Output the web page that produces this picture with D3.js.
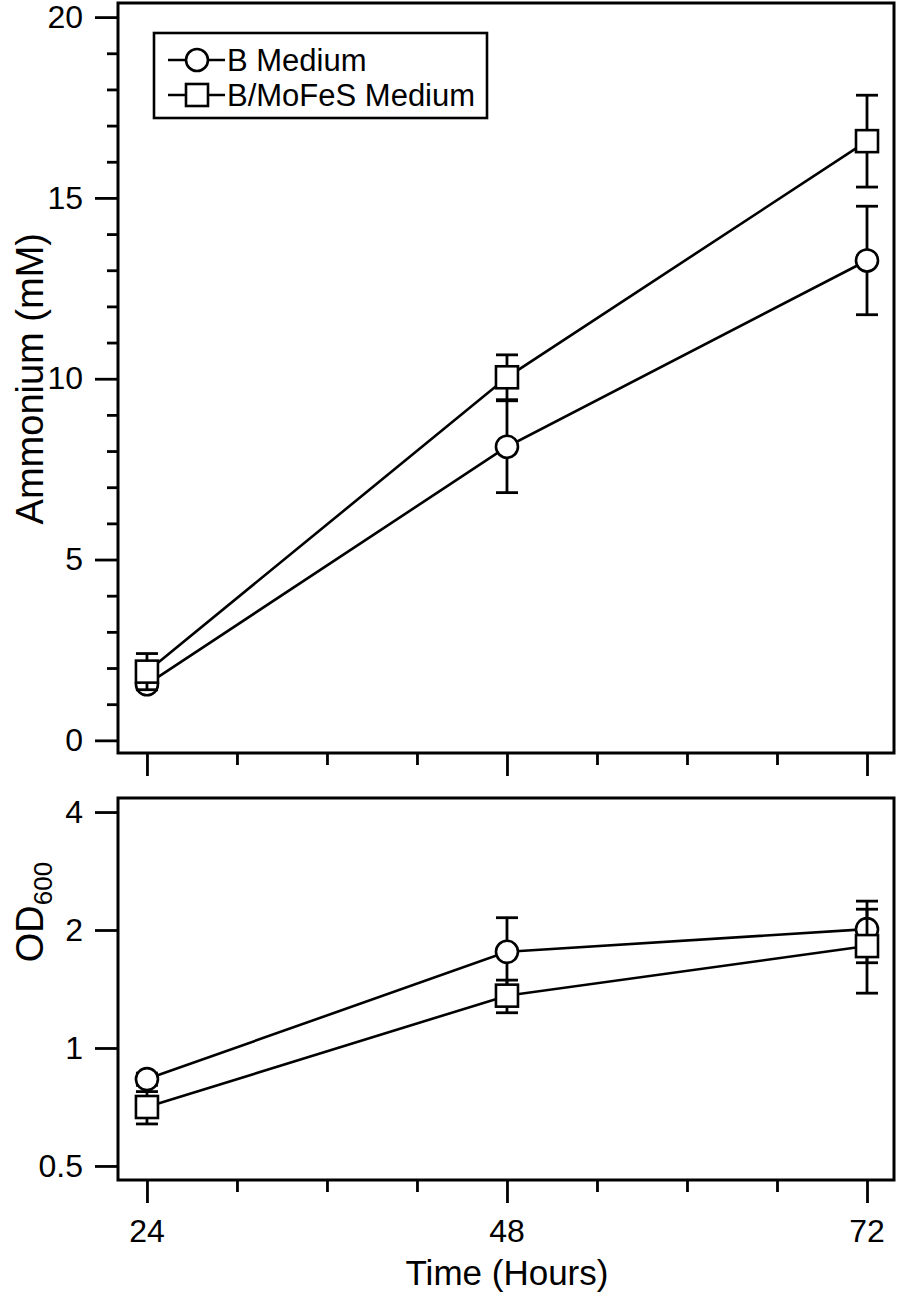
<!DOCTYPE html>
<html><head><meta charset="utf-8">
<script src="https://cdn.jsdelivr.net/npm/d3@7"></script>
<style>body{margin:0;background:#fff}svg{display:block}text{font-family:"Liberation Sans",Arial,sans-serif;fill:#000}</style>
</head><body><svg id="c" width="898" height="1299"></svg>
<script>
const hours = [24, 48, 72];
const xTickMajor = [24, 48, 72];
const xTickMinor = [30, 36, 42, 54, 60, 66];
const ammoniumB = [1.55, 8.12, 13.27];
const ammoniumBErr = [0.15, 1.27, 1.5];
const ammoniumMoFeS = [1.9, 10.04, 16.57];
const ammoniumMoFeSErr = [0.5, 0.62, 1.27];
const odB = [0.833, 1.76, 2.01];
const odBErr = [0.03, 0.39, 0.36];
const odMoFeS = [0.707, 1.36, 1.82];
const odMoFeSErr = [0.067, 0.13, 0.44];
const ammTicksMajor = [0, 5, 10, 15, 20];
const ammTicksMinor = d3.range(0, 21).filter(v => v % 5 !== 0);
const odTicks = [0.5, 1, 2, 4];
const seriesNames = ["B Medium", "B/MoFeS Medium"];

const svg = d3.select("#c");
const L = 118, R = 894;
const top1 = 3, bot1 = 753, top2 = 798, bot2 = 1180;
const x = d3.scaleLinear().domain([22.07, 73.8]).range([L, R]);
const y1 = d3.scaleLinear().domain([-0.35, 20.39]).range([bot1, top1]);
const y2 = d3.scaleLog().domain([0.4604, 4.344]).range([bot2, top2]);
const FS = 32;
const SW = 2.8;

function frame(t, b) {
  svg.append("rect").attr("x", L).attr("y", t).attr("width", R - L).attr("height", b - t)
    .attr("fill", "none").attr("stroke", "#000").attr("stroke-width", 3);
}
function xTicks(b) {
  const g = svg.append("g").attr("transform", `translate(0,${b})`);
  g.call(d3.axisBottom(x).tickValues(xTickMajor).tickSize(23).tickFormat(""));
  const g2 = svg.append("g").attr("transform", `translate(0,${b})`);
  g2.call(d3.axisBottom(x).tickValues(xTickMinor).tickSize(12).tickFormat(""));
  [g, g2].forEach(gg => { gg.select(".domain").remove(); gg.selectAll("line").attr("stroke", "#000").attr("stroke-width", SW); });
}
frame(top1, bot1);
frame(top2, bot2);
xTicks(bot1);
xTicks(bot2);

// top y axis
{
  const g = svg.append("g").attr("transform", `translate(${L},0)`);
  g.call(d3.axisLeft(y1).tickValues(ammTicksMajor).tickSize(23).tickPadding(12).tickFormat(d3.format("d")));
  const g2 = svg.append("g").attr("transform", `translate(${L},0)`);
  g2.call(d3.axisLeft(y1).tickValues(ammTicksMinor).tickSize(11).tickFormat(""));
  [g, g2].forEach(gg => { gg.select(".domain").remove(); gg.selectAll("line").attr("stroke", "#000").attr("stroke-width", SW); });
  g.selectAll("text").attr("font-size", FS).attr("font-family", "Liberation Sans, Arial, sans-serif");
}
// bottom y axis
{
  const g = svg.append("g").attr("transform", `translate(${L},0)`);
  g.call(d3.axisLeft(y2).tickValues(odTicks).tickSize(23).tickPadding(12).tickFormat(d => String(d)));
  g.select(".domain").remove();
  g.selectAll("line").attr("stroke", "#000").attr("stroke-width", SW);
  g.selectAll("text").attr("font-size", FS).attr("font-family", "Liberation Sans, Arial, sans-serif");
}
// x tick labels
svg.append("g").selectAll("text").data(xTickMajor).join("text")
  .attr("x", d => x(d)).attr("y", 1242).attr("text-anchor", "middle").attr("font-size", FS).text(d => d);
svg.append("text").attr("x", x(48)).attr("y", 1285).attr("text-anchor", "middle").attr("font-size", 35).text("Time (Hours)");
svg.append("text").attr("transform", `translate(43,${y1(10)}) rotate(-90)`).attr("text-anchor", "middle")
  .attr("font-size", 38).text("Ammonium (mM)");
{
  const t = svg.append("text").attr("transform", `translate(43,912) rotate(-90)`).attr("text-anchor", "middle").attr("font-size", 38);
  t.append("tspan").text("OD");
  t.append("tspan").attr("font-size", 26).attr("dy", 9).text("600");
}

function series(ys, vals, errs, shape) {
  const g = svg.append("g");
  const pts = hours.map((h, i) => ({ h, v: vals[i], e: errs[i] }));
  g.append("path").datum(pts).attr("fill", "none").attr("stroke", "#000").attr("stroke-width", 2.6)
    .attr("d", d3.line().x(d => x(d.h)).y(d => ys(d.v)));
  const eb = g.selectAll("g.eb").data(pts).join("g").attr("stroke", "#000").attr("stroke-width", SW);
  eb.append("line").attr("x1", d => x(d.h)).attr("x2", d => x(d.h)).attr("y1", d => ys(d.v + d.e)).attr("y2", d => ys(d.v - d.e));
  eb.append("line").attr("x1", d => x(d.h) - 11).attr("x2", d => x(d.h) + 11).attr("y1", d => ys(d.v + d.e)).attr("y2", d => ys(d.v + d.e));
  eb.append("line").attr("x1", d => x(d.h) - 11).attr("x2", d => x(d.h) + 11).attr("y1", d => ys(d.v - d.e)).attr("y2", d => ys(d.v - d.e));
  marker(g.selectAll("m").data(pts).enter(), d => x(d.h), d => ys(d.v), shape);
}
function marker(sel, fx, fy, shape) {
  if (shape === "circle") {
    sel.append("circle").attr("cx", fx).attr("cy", fy).attr("r", 11).attr("fill", "#fff").attr("stroke", "#000").attr("stroke-width", 2.6);
  } else {
    sel.append("rect").attr("x", d => fx(d) - 11).attr("y", d => fy(d) - 11).attr("width", 22).attr("height", 22).attr("fill", "#fff").attr("stroke", "#000").attr("stroke-width", 2.6);
  }
}
series(y1, ammoniumB, ammoniumBErr, "circle");
series(y1, ammoniumMoFeS, ammoniumMoFeSErr, "square");
series(y2, odB, odBErr, "circle");
series(y2, odMoFeS, odMoFeSErr, "square");

// legend
{
  const g = svg.append("g");
  g.append("rect").attr("x", 154).attr("y", 33).attr("width", 333).attr("height", 85).attr("fill", "#fff").attr("stroke", "#000").attr("stroke-width", 2.6);
  const rows = seriesNames.map((n, i) => ({ n, i, y: 60 + i * 35 }));
  const r = g.selectAll("g.r").data(rows).join("g");
  r.append("line").attr("x1", 168).attr("x2", 225).attr("y1", d => d.y).attr("y2", d => d.y).attr("stroke", "#000").attr("stroke-width", 2.6);
  r.each(function (d) {
    marker(d3.select(this).data([d]), () => 197, dd => dd.y, d.i === 0 ? "circle" : "square");
  });
  r.append("text").attr("x", 227).attr("y", d => d.y + 11).attr("font-size", 31).text(d => d.n);
}
</script></body></html>
